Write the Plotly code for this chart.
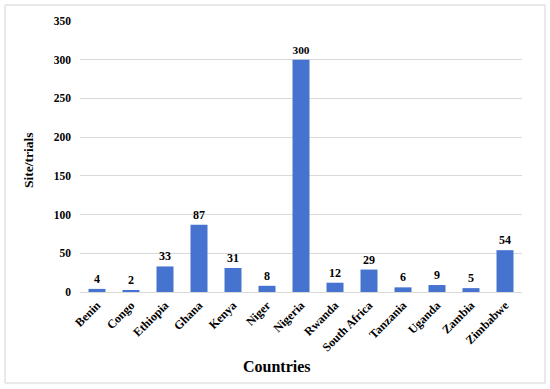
import plotly.graph_objects as go

countries = ["Benin", "Congo", "Ethiopia", "Ghana", "Kenya", "Niger", "Nigeria",
             "Rwanda", "South Africa", "Tanzania", "Uganda", "Zambia", "Zimbabwe"]
sites = [4, 2, 33, 87, 31, 8, 300, 12, 29, 6, 9, 5, 54]
y_ticks = [0, 50, 100, 150, 200, 250, 300, 350]

FONT = "Liberation Serif"
L, R, T, B = 80, 28, 21, 97
W, H = 550, 389
PW, PH = W - L - R, H - T - B


def px(x):
    return (x - L) / PW


def py(y):
    return (H - B - y) / PH


fig = go.Figure(go.Bar(
    x=countries, y=sites,
    marker=dict(color="#4673CF", line=dict(width=0)),
    text=[str(v) for v in sites], textposition="outside",
    textfont=dict(family=FONT, size=12, color="black", weight="bold"),
    cliponaxis=False,
))

fig.update_layout(
    width=W, height=H,
    margin=dict(l=L, r=R, t=T, b=B, autoexpand=False),
    paper_bgcolor="white", plot_bgcolor="white",
    bargap=0.5,
    showlegend=False,
    font=dict(family=FONT, color="black"),
    xaxis=dict(
        automargin=False,
        tickangle=-45, tickfont=dict(family=FONT, size=12, weight="bold"),
        showgrid=False, showline=False, ticks="", ticklabelstandoff=3,
    ),
    yaxis=dict(
        automargin=False,
        range=[0, 350], tickvals=y_ticks,
        tickfont=dict(family=FONT, size=11.5, weight="bold"),
        showgrid=True, gridcolor="#d9d9d9", gridwidth=1,
        zeroline=True, zerolinecolor="#d9d9d9", zerolinewidth=1,
        showline=False, ticks="", ticklen=0, ticklabelstandoff=8,
    ),
    annotations=[
        dict(text="Countries", xref="paper", yref="paper", x=px(277), y=py(366.5),
             xanchor="center", yanchor="middle", showarrow=False,
             font=dict(family=FONT, size=16, weight="bold", color="black")),
        dict(text="Site/trials", xref="paper", yref="paper", x=px(29), y=py(160),
             xanchor="center", yanchor="middle", showarrow=False, textangle=-90,
             font=dict(family=FONT, size=13.5, weight="bold", color="black")),
    ],
    shapes=[dict(type="rect", xref="paper", yref="paper",
                 x0=px(5), x1=px(545), y0=py(383), y1=py(5),
                 line=dict(color="#d4d4d4", width=1), fillcolor="rgba(0,0,0,0)", layer="above")],
)

fig.write_html("out.html", config={"displayModeBar": False},
               post_script="document.body.style.margin='0';")
